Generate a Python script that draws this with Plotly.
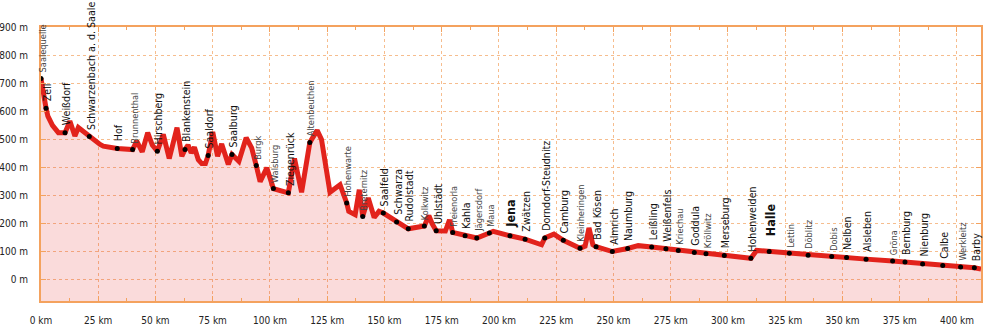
import plotly.graph_objects as go

# Elevation profile of the Saale (km from source, metres above sea level)
PROFILE_KM = [0, 1.2, 2.2, 3.0, 5.0, 7.6, 10.5, 12.6, 14.8, 16.3, 21.1, 25.8, 27.2, 33.3,
              40.0, 41.8, 44.2, 46.6, 48.6, 50.8, 53.4, 56.0, 59.4, 61.5, 62.9, 64.2, 65.6,
              67.0, 68.7, 70.2, 71.8, 73.0, 75.0, 77.1, 78.9, 81.8, 83.4, 86.4, 89.6, 92.0,
              94.0, 95.7, 98.6, 101.5, 108.0, 110.7, 113.8, 117.4, 120.6, 122.5, 126.2,
              130.6, 133.5, 134.4, 137.2, 139.0, 140.5, 142.9, 145.5, 147.6, 149.5, 155.3,
              160.4, 167.4, 169.4, 170.8, 172.6, 176.6, 178.4, 179.8, 185.2, 190.3, 195.8,
              197.5, 204.8, 211.4, 218.6, 220.0, 224.0, 228.1, 235.4, 237.6, 239.3, 241.0,
              242.4, 249.5, 256.2, 260.8, 266.7, 272.9, 278.3, 285.3, 290.4, 298.4, 310.0,
              312.5, 318.0, 326.8, 335.0, 345.3, 351.8, 360.3, 371.9, 377.3, 385.0, 393.8,
              401.6, 407.6, 410.5]
PROFILE_M = [717, 650, 611, 583, 550, 524, 524, 565, 512, 542, 510, 482, 476, 468,
             464, 494, 456, 524, 480, 458, 518, 432, 542, 440, 464, 480, 452,
             472, 428, 414, 414, 443, 526, 440, 484, 411, 446, 422, 506, 470,
             407, 350, 399, 325, 310, 432, 312, 489, 532, 500, 312,
             339, 274, 244, 232, 321, 226, 292, 222, 244, 238, 206,
             182, 192, 229, 200, 175, 174, 214, 169, 157, 149, 167,
             173, 157, 145, 125, 149, 163, 141, 113, 120, 185, 125,
             118, 101, 112, 122, 117, 111, 105, 98, 93, 87, 77,
             105, 101, 95, 88, 83, 80, 74, 67, 64, 57, 51,
             46, 43, 39]

PLACE_NAMES = ["Saalequelle", "Zell", "Weißdorf", "Schwarzenbach a. d. Saale", "Hof",
               "Brunnenthal", "Hirschberg", "Blankenstein", "Saaldorf", "Saalburg", "Burgk",
               "Walsburg", "Ziegenrück", "Altenbeuthen", "Hohenwarte", "Breternitz",
               "Saalfeld", "Schwarza", "Rudolstadt", "Kolkwitz", "Uhlstädt", "Freienorla",
               "Kahla", "Jägersdorf", "Maua", "Jena", "Zwätzen", "Dorndorf-Steudnitz",
               "Camburg", "Kleinheringen", "Bad Kösen", "Almrich", "Naumburg", "Leißling",
               "Weißenfels", "Kriechau", "Goddula", "Kröllwitz", "Merseburg", "Hohenweiden",
               "Halle", "Lettin", "Döblitz", "Dobis", "Nelben", "Alsleben", "Gröna",
               "Bernburg", "Nienburg", "Calbe", "Werkleitz", "Barby"]
PLACE_KM = [0, 2.2, 10.5, 21.1, 33.3, 40.0, 50.8, 62.9, 73.0, 83.4, 94.0, 101.5, 108.0,
            117.4, 133.5, 140.5, 149.5, 155.3, 160.4, 167.4, 172.6, 179.8, 185.2, 190.3,
            195.8, 204.8, 211.4, 220.0, 228.1, 235.4, 242.4, 249.5, 256.2, 266.7, 272.9,
            278.3, 285.3, 290.4, 298.4, 310.0, 318.0, 326.8, 335.0, 345.3, 351.8, 360.3,
            371.9, 377.3, 385.0, 393.8, 401.6, 407.6]
PLACE_M = [717, 611, 524, 510, 468, 464, 458, 464, 443, 446, 407, 325, 310,
           489, 274, 226, 238, 206, 182, 192, 175, 169, 157, 149,
           167, 157, 145, 149, 141, 113, 118, 101, 112, 117, 111,
           105, 98, 93, 87, 77, 101, 95, 88, 83, 80, 74,
           67, 64, 57, 51, 46, 43]
MINOR_PLACES = {"Saalequelle", "Brunnenthal", "Burgk", "Walsburg", "Altenbeuthen",
                "Hohenwarte", "Breternitz", "Kolkwitz", "Freienorla", "Jägersdorf", "Maua",
                "Kleinheringen", "Kriechau", "Kröllwitz", "Lettin", "Döblitz", "Dobis",
                "Gröna", "Werkleitz"}
CAPITAL_PLACES = {"Jena", "Halle"}

X_TICKS = [0, 25, 50, 75, 100, 125, 150, 175, 200, 225, 250, 275, 300, 325, 350, 375, 400]
X_TICK_TEXT = [f"{v} km" for v in X_TICKS]
Y_TICKS = [0, 100, 200, 300, 400, 500, 600, 700, 800, 900]
Y_TICK_TEXT = [f"{v} m" for v in Y_TICKS]
X_MAX = 410.5
Y_MIN = -75
Y_MAX = 900

FONT = "DejaVu Sans Condensed, sans-serif"
ORANGE = "#f4a25e"
GRID = "#f6bd8e"
RED = "#e2231c"

fig = go.Figure()
fig.add_trace(go.Scatter(x=PROFILE_KM, y=[Y_MIN] * len(PROFILE_KM), mode="lines",
                         line=dict(width=0), hoverinfo="skip", showlegend=False))
fig.add_trace(go.Scatter(x=PROFILE_KM, y=PROFILE_M, mode="lines", fill="tonexty",
                         fillcolor="rgba(228,40,40,0.17)",
                         line=dict(color=RED, width=5), showlegend=False))
fig.add_trace(go.Scatter(x=PLACE_KM, y=PLACE_M, mode="markers",
                         marker=dict(color="black", size=5), showlegend=False))

for name, km, m in zip(PLACE_NAMES, PLACE_KM, PLACE_M):
    if name in CAPITAL_PLACES:
        font = dict(family=FONT, size=12.5, color="#111", weight="bold")
        ys = 6 if name == "Jena" else 13
    elif name in MINOR_PLACES:
        font = dict(family=FONT, size=9.2, color="#444")
        ys = 4
    else:
        font = dict(family=FONT, size=10.6, color="#111")
        ys = 5
    fig.add_annotation(x=km, y=m, text=name, textangle=-90, showarrow=False,
                       xanchor="center", yanchor="bottom", xshift=1, yshift=ys, font=font)

axis_common = dict(showline=True, linecolor=ORANGE, linewidth=2, mirror="ticks",
                   ticks="inside", tickcolor=ORANGE, ticklen=5, tickwidth=1,
                   showgrid=True, gridcolor=GRID, griddash="dot", gridwidth=1,
                   zeroline=False, automargin=False,
                   tickfont=dict(family=FONT, size=10, color="#222"))

fig.update_xaxes(range=[0, X_MAX], tickvals=X_TICKS, ticktext=X_TICK_TEXT,
                 ticklabelstandoff=9,
                 minor=dict(ticks="inside", ticklen=3, tickcolor=ORANGE, dtick=12.5,
                            tick0=0, showgrid=False),
                 **axis_common)
fig.update_yaxes(range=[Y_MIN, Y_MAX], tickvals=Y_TICKS, ticktext=Y_TICK_TEXT,
                 ticklabelstandoff=9, **axis_common)

fig.update_layout(width=987, height=329, margin=dict(l=41, r=6, t=27, b=28),
                  plot_bgcolor="white", paper_bgcolor="white")

fig.write_html("out.html")
